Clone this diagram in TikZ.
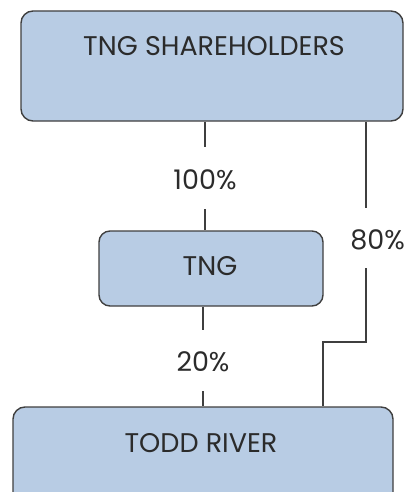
\documentclass[tikz,border=0pt]{standalone}
\usepackage{fontspec}
\setmainfont{Poppins}
\definecolor{boxfill}{HTML}{B8CCE4}
\definecolor{boxdraw}{HTML}{3F3F3F}
\definecolor{txt}{HTML}{2B2B2B}
\begin{document}
\begin{tikzpicture}[x=1pt,y=-1pt,
  entity/.style={draw=boxdraw, fill=boxfill, line width=1.4pt, rounded corners=12pt, inner sep=0pt},
  lbl/.style={text=txt, font=\fontsize{27}{31}\selectfont, inner sep=0pt},
  link/.style={draw=boxdraw, line width=1.3pt}]
\useasboundingbox (0,0) rectangle (406,492);
\node[entity, minimum width=382pt, minimum height=110pt] (top) at (212,66) {};
\node[lbl] (toptext) at (214,46) {TNG SHAREHOLDERS};
\node[entity, minimum width=224pt, minimum height=75pt, rounded corners=11pt] (tng) at (211,268.5) {};
\node[lbl] (tngtext) at (210,266) {TNG};
\node[entity, minimum width=380pt, minimum height=110pt] (todd) at (203,462) {};
\node[lbl] (toddtext) at (201,443) {TODD RIVER};
% labels
\node[lbl] (p100) at (205,180) {100\%};
\node[lbl] (p20) at (203,362) {20\%};
\node[lbl] (p80) at (377.5,240) {80\%};
% coordinates
\coordinate (a1) at (205,147);
\coordinate (a2) at (205,209);
\coordinate (b1) at (203,330);
\coordinate (b2) at (203,391);
\coordinate (c1) at (366,208);
\coordinate (c2) at (366,268);
\coordinate (c3) at (323,342);
\draw[link] (top.south -| a1) -- (a1);
\draw[link] (a2) -- (tng.north -| a2);
\draw[link] (tng.south -| b1) -- (b1);
\draw[link] (b2) -- (todd.north -| b2);
\draw[link] (top.south -| c1) -- (c1);
\draw[link] (c2) |- (c3) -- (todd.north -| c3);
\end{tikzpicture}
\end{document}
